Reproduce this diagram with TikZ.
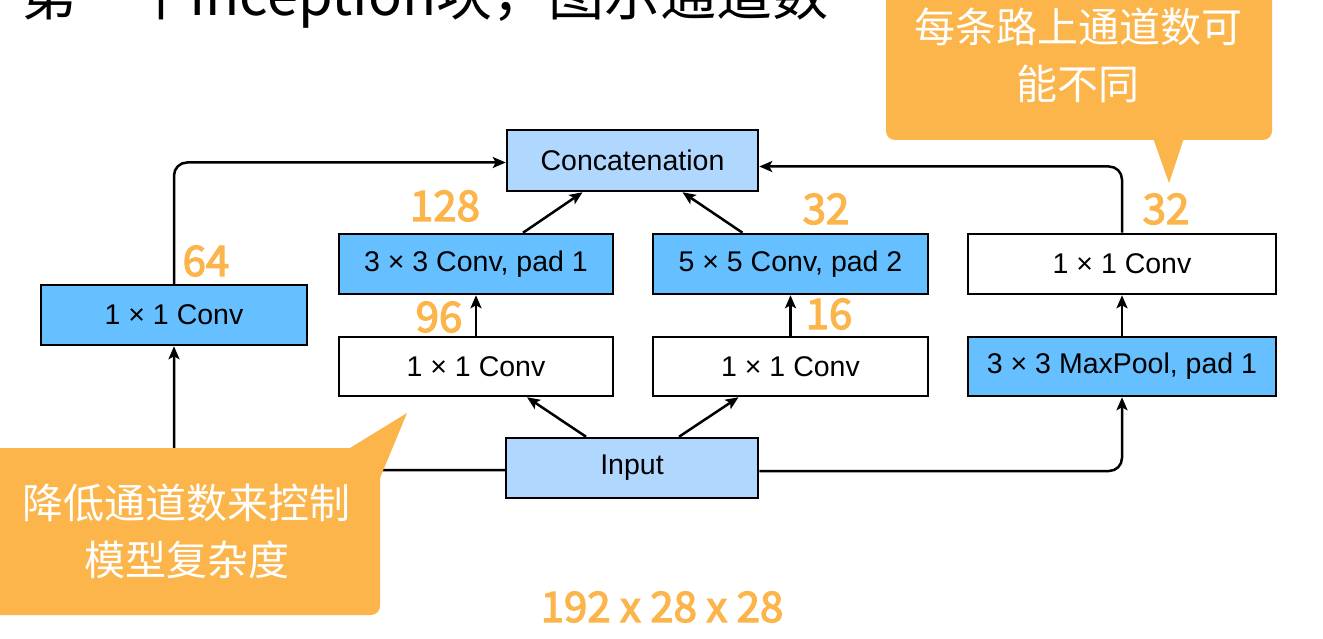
\documentclass[tikz,border=0pt]{standalone}
\usepackage{fontspec}
\setmainfont{Liberation Sans}
\newfontfamily\cjk{Noto Sans CJK SC}
\newfontfamily\numfont[FakeBold=3]{Noto Sans CJK SC}
\usetikzlibrary{arrows.meta}
\definecolor{midblue}{RGB}{102,191,255}
\definecolor{lightblue}{RGB}{176,216,255}
\definecolor{callorange}{RGB}{251,181,75}
\tikzset{
  box/.style={draw=black, line width=2.5pt, inner sep=0pt, font=\fontsize{28.5}{33}\selectfont},
  bluebox/.style={box, fill=midblue},
  lbox/.style={box, fill=lightblue},
  wbox/.style={box, fill=white},
  arr/.style={line width=2.5pt, -{Stealth[length=13pt,width=11pt,inset=3pt]}, rounded corners=13pt},
  numlbl/.style={text=callorange, inner sep=0pt, font=\numfont\fontsize{42}{50}\selectfont},
  calltext/.style={text=white, align=center, inner sep=0pt, font=\cjk\fontsize{41}{57}\selectfont},
}
\begin{document}
\begin{tikzpicture}[x=1pt,y=-1pt]
\useasboundingbox (0,0) rectangle (1323,639);
\fill[white] (0,0) rectangle (1323,639);

% title (cut off at top)
\node[anchor=base west, inner sep=0pt, font=\cjk\fontsize{56}{60}\selectfont] (title) at (21,16) {第一个Inception块，图示通道数};

% boxes
\node[lbox, minimum width=251pt, minimum height=61pt] (concat) at (632.5,160.5) {Concatenation};
\node[bluebox, minimum width=274pt, minimum height=60pt] (c33) at (476,264) {3 × 3 Conv, pad 1};
\node[bluebox, minimum width=275pt, minimum height=60pt] (c55) at (790.5,264) {5 × 5 Conv, pad 2};
\node[wbox, minimum width=308pt, minimum height=60pt] (r11) at (1122,264) {1 × 1 Conv};
\node[bluebox, minimum width=266pt, minimum height=60pt] (l11) at (174,315) {1 × 1 Conv};
\node[wbox, minimum width=274pt, minimum height=59pt] (m11a) at (476,366.5) {1 × 1 Conv};
\node[wbox, minimum width=275pt, minimum height=59pt] (m11b) at (790.5,366.5) {1 × 1 Conv};
\node[bluebox, minimum width=308pt, minimum height=59pt] (pool) at (1122,366.5) {3 × 3 MaxPool, pad 1};
\node[lbox, minimum width=252pt, minimum height=60pt] (input) at (632,468) {Input};

% connectors
\draw[arr] ([yshift=-2pt]input.west) -| (l11.south);
\draw[arr] (l11.north) |- ([yshift=-2pt]concat.west);
\draw[arr] ([xshift=47pt]c33.north) -- ([xshift=-50pt]concat.south);
\draw[arr] ([xshift=-48pt]c55.north) -- ([xshift=50pt]concat.south);
\draw[arr] (m11a.north) -- (c33.south);
\draw[arr] (m11b.north) -- (c55.south);
\draw[arr] ([xshift=-46pt]input.north) -- ([xshift=51pt]m11a.south);
\draw[arr] ([xshift=47pt]input.north) -- ([xshift=-52pt]m11b.south);
\draw[arr] ([yshift=-3pt]input.east) -| (pool.south);
\draw[arr] (pool.north) -- (r11.south);
\draw[arr] (r11.north) |- ([yshift=-6pt]concat.east);

% channel labels
\node[numlbl] (n64) at (206,261) {64};
\node[numlbl] (n128) at (445,206) {128};
\node[numlbl] (n96) at (439,317) {96};
\node[numlbl] (n32a) at (826,209) {32};
\node[numlbl] (n16) at (829,314) {16};
\node[numlbl] (n32b) at (1166,209) {32};
\node[numlbl] (nin) at (662,607) {192 x 28 x 28};

% callout top right
\fill[callorange, rounded corners=9pt] (886,-30) rectangle (1272,140);
\fill[callorange] (1153,138) -- (1169,183) -- (1184,138) -- cycle;
\node[calltext] (ct1) at (1078,55) {每条路上通道数可\\能不同};

% callout bottom left
\fill[callorange, rounded corners=9pt] (-20,448) rectangle (380,615);
\fill[callorange] (350,448) -- (407,413) -- (380,478) -- (366,478) -- (366,448) -- cycle;
\node[calltext] (ct2) at (187,531) {降低通道数来控制\\模型复杂度};
\end{tikzpicture}
\end{document}
